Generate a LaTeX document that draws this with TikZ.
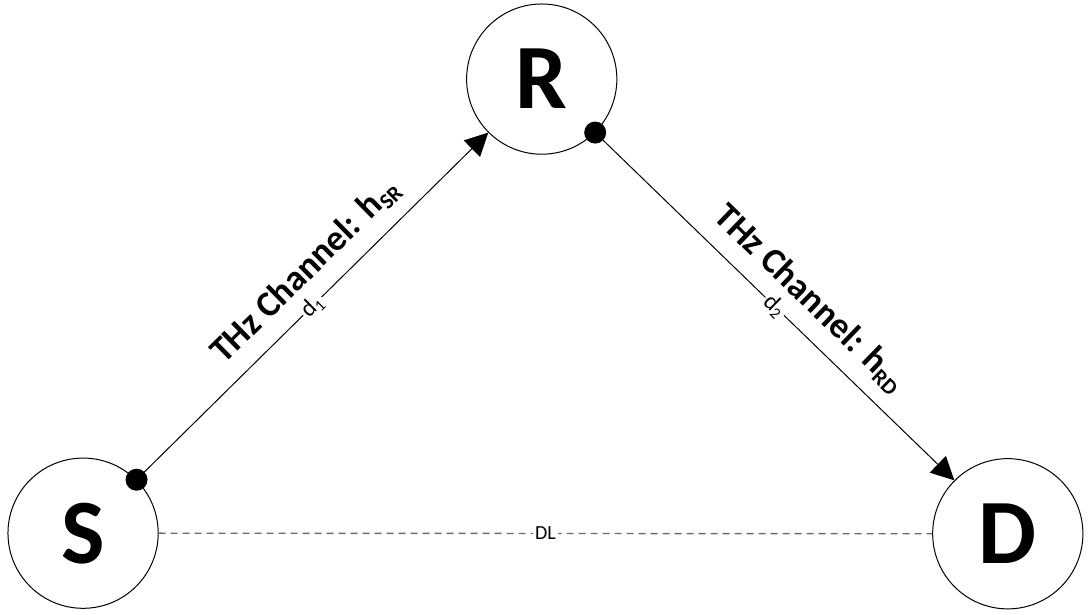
\documentclass[tikz,border=0pt]{standalone}
\usepackage{fontspec}
\setmainfont{Carlito}
\usetikzlibrary{arrows.meta}
% small lowered index after the channel gain h
\newcommand{\gainidx}[1]{\raisebox{-0.15em}{\fontsize{11}{11}\selectfont #1}}
\begin{document}
\begin{tikzpicture}[
    station/.style={circle, draw, line width=0.5pt, minimum size=2.64cm, inner sep=0pt,
        font=\fontsize{46}{46}\selectfont\bfseries},
    link/.style={line width=0.5pt, -{Triangle[length=11.5pt,width=11.5pt]}},
    chan/.style={pos=0.54, above, sloped, inner sep=7pt, font=\fontsize{18}{20}\selectfont\bfseries},
    dist/.style={midway, sloped, fill=white, inner sep=1pt, font=\fontsize{12}{13}\selectfont}]
    \useasboundingbox (0,0) rectangle (19.19,10.79);
    % the three nodes
    \node[station] (S) at (1.46,1.42) {S};
    \node[station] (R) at (9.52,9.40) {R};
    \node[station] (D) at (17.71,1.41) {D};
    % THz hops S -> R -> D
    \draw[link] (S.45) -- (R.225) node[dist] {d\textsubscript{1}}
        node[chan] {THz Channel: h\gainidx{SR}};
    \fill (S.45) circle (5.5pt);
    \draw[link] (R.-45) -- (D.135) node[dist] {d\textsubscript{2}}
        node[chan] {THz Channel: h\gainidx{RD}};
    \fill (R.-45) circle (5.5pt);
    % direct link
    \draw[gray!85!black, dash pattern=on 3.5pt off 2.5pt, line width=0.7pt] (S.east) -- (D.west)
        node[midway, fill=white, inner sep=1pt, text=black, font=\fontsize{10}{11}\selectfont] {DL};
\end{tikzpicture}
\end{document}
